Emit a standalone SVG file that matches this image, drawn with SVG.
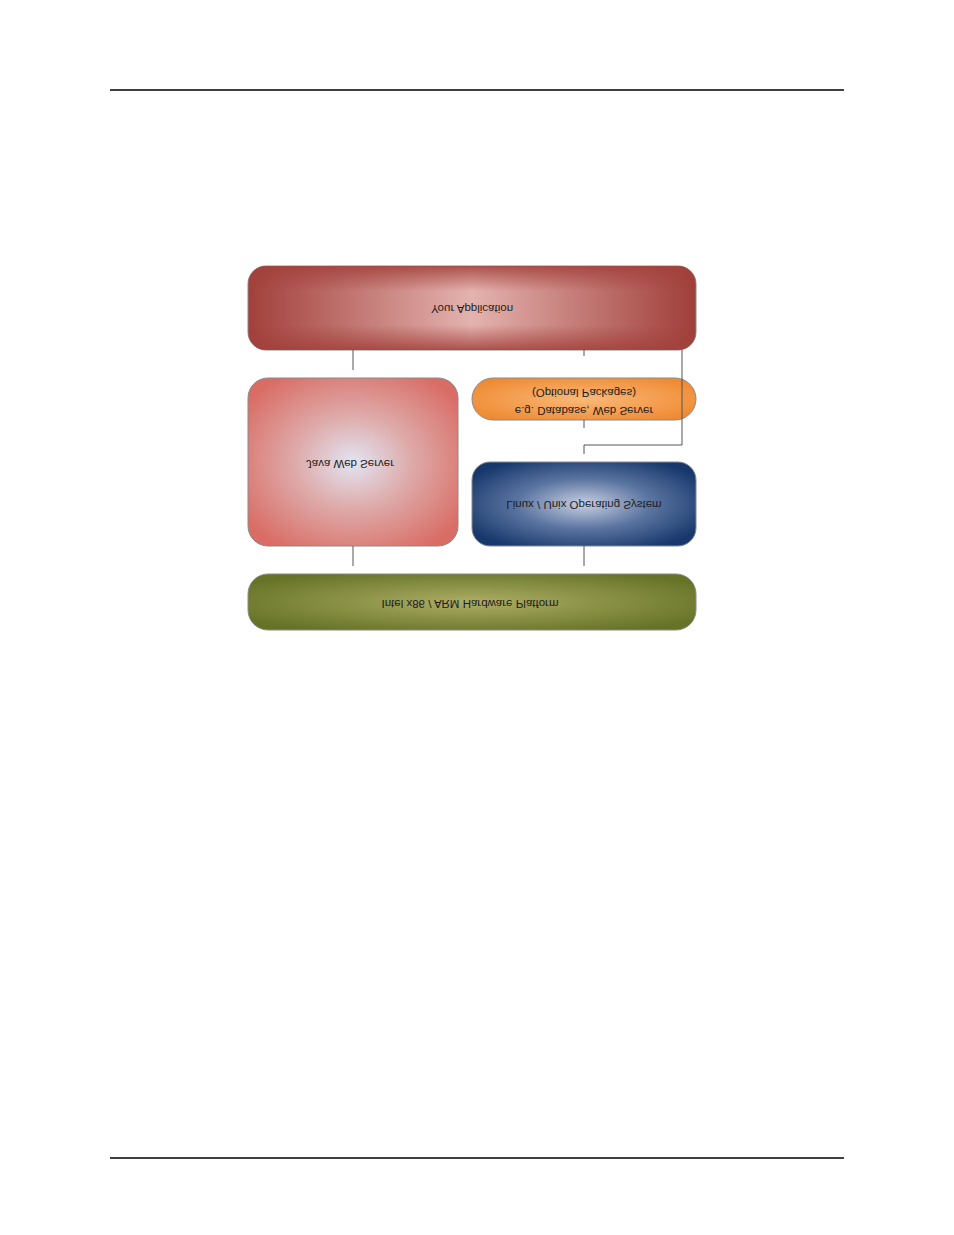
<svg xmlns="http://www.w3.org/2000/svg" width="954" height="1235" viewBox="0 0 954 1235">
<style>
.t{font-family:"Liberation Sans",Arial,sans-serif;font-size:11.5px;fill:#1c1c1c;text-anchor:middle}
.c{stroke:#555;stroke-width:1;fill:none}
.b{stroke:#8a8a8a;stroke-width:1}
.rule{stroke:#000;stroke-width:1.3}
</style>
<defs>
<linearGradient id="redH" x1="0" y1="0" x2="1" y2="0">
<stop offset="0" stop-color="#a2403b"/>
<stop offset="0.5" stop-color="#e4b3af"/>
<stop offset="1" stop-color="#a03e39"/>
</linearGradient>
<linearGradient id="redV" x1="0" y1="0" x2="0" y2="1">
<stop offset="0" stop-color="#a2403b" stop-opacity="0.85"/>
<stop offset="0.3" stop-color="#a2403b" stop-opacity="0"/>
<stop offset="0.7" stop-color="#a2403b" stop-opacity="0"/>
<stop offset="1" stop-color="#a2403b" stop-opacity="0.85"/>
</linearGradient>
<radialGradient id="salmon" cx="0.5" cy="0.5" r="0.62">
<stop offset="0" stop-color="#e2e4f2"/>
<stop offset="0.45" stop-color="#deaaa9"/>
<stop offset="1" stop-color="#d96c64"/>
</radialGradient>
<radialGradient id="orange" cx="0.5" cy="0.5" r="0.6">
<stop offset="0" stop-color="#f9b978"/>
<stop offset="1" stop-color="#ef8a32"/>
</radialGradient>
<radialGradient id="blue" cx="0.5" cy="0.5" r="0.6">
<stop offset="0" stop-color="#c8cfe2"/>
<stop offset="0.5" stop-color="#5a74a0"/>
<stop offset="1" stop-color="#17386c"/>
</radialGradient>
<radialGradient id="olive" cx="0.5" cy="0.5" r="0.6">
<stop offset="0" stop-color="#acae64"/>
<stop offset="1" stop-color="#667326"/>
</radialGradient>
</defs>
<line class="rule" x1="110" y1="90" x2="844" y2="90"/>
<line class="rule" x1="110" y1="1158" x2="844" y2="1158"/>
<g id="node-app">
<rect class="b" x="248" y="266" width="448" height="84" rx="18" fill="url(#redH)"/>
<rect x="248" y="266" width="448" height="84" rx="18" fill="url(#redV)"/>
<text class="t" x="472" y="313" transform="matrix(1,0,0,-1,0,618)">Your Application</text>
</g>
<g id="node-jvm">
<rect class="b" x="248" y="378" width="210" height="168" rx="20" fill="url(#salmon)"/>
<text class="t" x="350" y="468" transform="matrix(1,0,0,-1,0,928)">Java Web Server</text>
</g>
<g id="node-packages">
<rect class="b" x="472" y="378" width="224" height="42" rx="21" fill="url(#orange)"/>
<text class="t" x="584" y="393" transform="matrix(1,0,0,-1,0,782)">(Optional Packages)</text>
<text class="t" x="584" y="411" transform="matrix(1,0,0,-1,0,818)">e.g. Database, Web Server</text>
</g>
<g id="node-os">
<rect class="b" x="472" y="462" width="224" height="84" rx="18" fill="url(#blue)"/>
<text class="t" x="584" y="509" transform="matrix(1,0,0,-1,0,1010)">Linux / Unix Operating System</text>
</g>
<g id="node-hw">
<rect class="b" x="248" y="574" width="448" height="56" rx="20" fill="url(#olive)"/>
<text class="t" x="470" y="608" transform="matrix(1,0,0,-1,0,1208)">Intel x86 / ARM Hardware Platform</text>
</g>
<g id="connectors">
<line class="c" x1="353" y1="350" x2="353" y2="370"/>
<line class="c" x1="584" y1="350" x2="584" y2="356"/>
<polyline class="c" points="682,350 682,445 584,445 584,454"/>
<line class="c" x1="584" y1="420" x2="584" y2="428"/>
<line class="c" x1="353" y1="546" x2="353" y2="566"/>
<line class="c" x1="584" y1="546" x2="584" y2="566"/>
</g>
</svg>
